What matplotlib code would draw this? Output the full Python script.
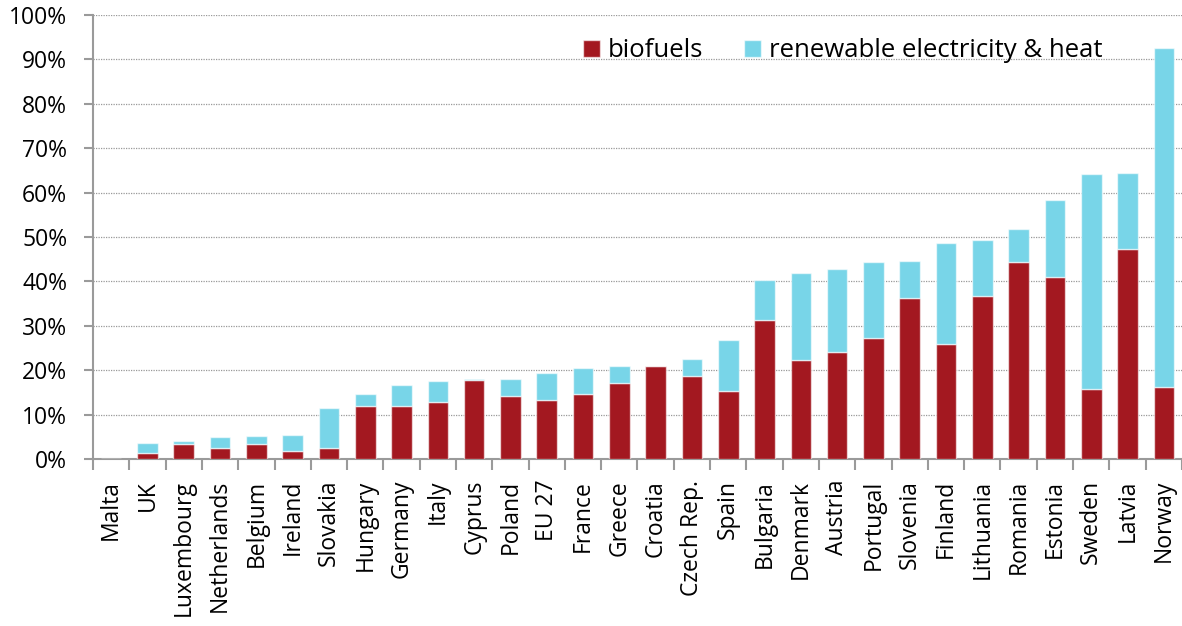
import matplotlib
matplotlib.use("Agg")
import matplotlib.pyplot as plt
import numpy as np
from matplotlib.ticker import PercentFormatter

countries = [
    "Malta", "UK", "Luxembourg", "Netherlands", "Belgium", "Ireland",
    "Slovakia", "Hungary", "Germany", "Italy", "Cyprus", "Poland", "EU 27",
    "France", "Greece", "Croatia", "Czech Rep.", "Spain", "Bulgaria",
    "Denmark", "Austria", "Portugal", "Slovenia", "Finland", "Lithuania",
    "Romania", "Estonia", "Sweden", "Latvia", "Norway",
]
# shares in %
biofuels = [
    0.0, 1.3, 3.3, 2.4, 3.3, 1.8, 2.4, 11.9, 11.9, 12.9, 17.8, 14.3, 13.2,
    14.7, 17.2, 20.9, 18.7, 15.3, 31.4, 22.4, 24.1, 27.2, 36.2, 25.9, 36.8,
    44.3, 40.9, 15.7, 47.4, 16.3,
]
total = [
    0.0, 3.6, 4.0, 4.9, 5.2, 5.5, 11.4, 14.6, 16.7, 17.6, 18.1, 18.1, 19.4,
    20.6, 20.9, 20.9, 22.5, 26.9, 40.3, 41.8, 42.8, 44.3, 44.6, 48.6, 49.3,
    51.8, 58.4, 64.2, 64.5, 92.5,
]
renewable = [t - b for t, b in zip(total, biofuels)]

red = "#A31820"
blue = "#78D5E8"
grey = "#9a9a9a"

plt.rcParams["font.family"] = ["Open Sans", "DejaVu Sans"]
fs = 16.5

fig = plt.figure(figsize=(11.82, 6.26), dpi=100)
ax = fig.add_axes([93 / 1182, 1 - 459 / 626, 1 - 93 / 1182, (459 - 15) / 626])

x = np.arange(len(countries))
kws = dict(width=0.57, edgecolor=(1, 1, 1, 0.6), linewidth=1.0, zorder=3)
ax.bar(x, np.array(biofuels) / 100, color=red, label="biofuels", **kws)
ax.bar(x, np.array(renewable) / 100, bottom=np.array(biofuels) / 100,
       color=blue, label="renewable electricity & heat", **kws)

ax.set_xlim(-0.5, len(countries) - 0.5)
ax.set_ylim(0, 1)
ax.set_yticks(np.arange(0, 1.01, 0.1))
ax.yaxis.set_major_formatter(PercentFormatter(1.0, decimals=0))
ax.yaxis.grid(True, linestyle=(0, (1, 1)), color="#999999", linewidth=0.9)
ax.set_axisbelow(True)

ax.set_xticks(x)
ax.set_xticklabels(countries, rotation=90, fontsize=fs)
ax.set_xticks(np.arange(-0.5, len(countries), 1), minor=True)
ax.tick_params(axis="x", which="major", length=0, pad=15)
ax.tick_params(axis="x", which="minor", length=8, width=1.5, color=grey)
ax.tick_params(axis="y", length=6.5, width=1.5, color=grey, labelsize=fs, pad=12)

for side in ["top", "right"]:
    ax.spines[side].set_visible(False)
for side in ["left", "bottom"]:
    ax.spines[side].set_color(grey)
    ax.spines[side].set_linewidth(1.5)

ax.legend(loc="upper left", bbox_to_anchor=(0.429, 1.0), ncol=2, frameon=False,
          fontsize=18.5, handlelength=0.65, handleheight=0.65, columnspacing=1.6,
          handletextpad=0.3)

fig.savefig("out.png", dpi=100)
